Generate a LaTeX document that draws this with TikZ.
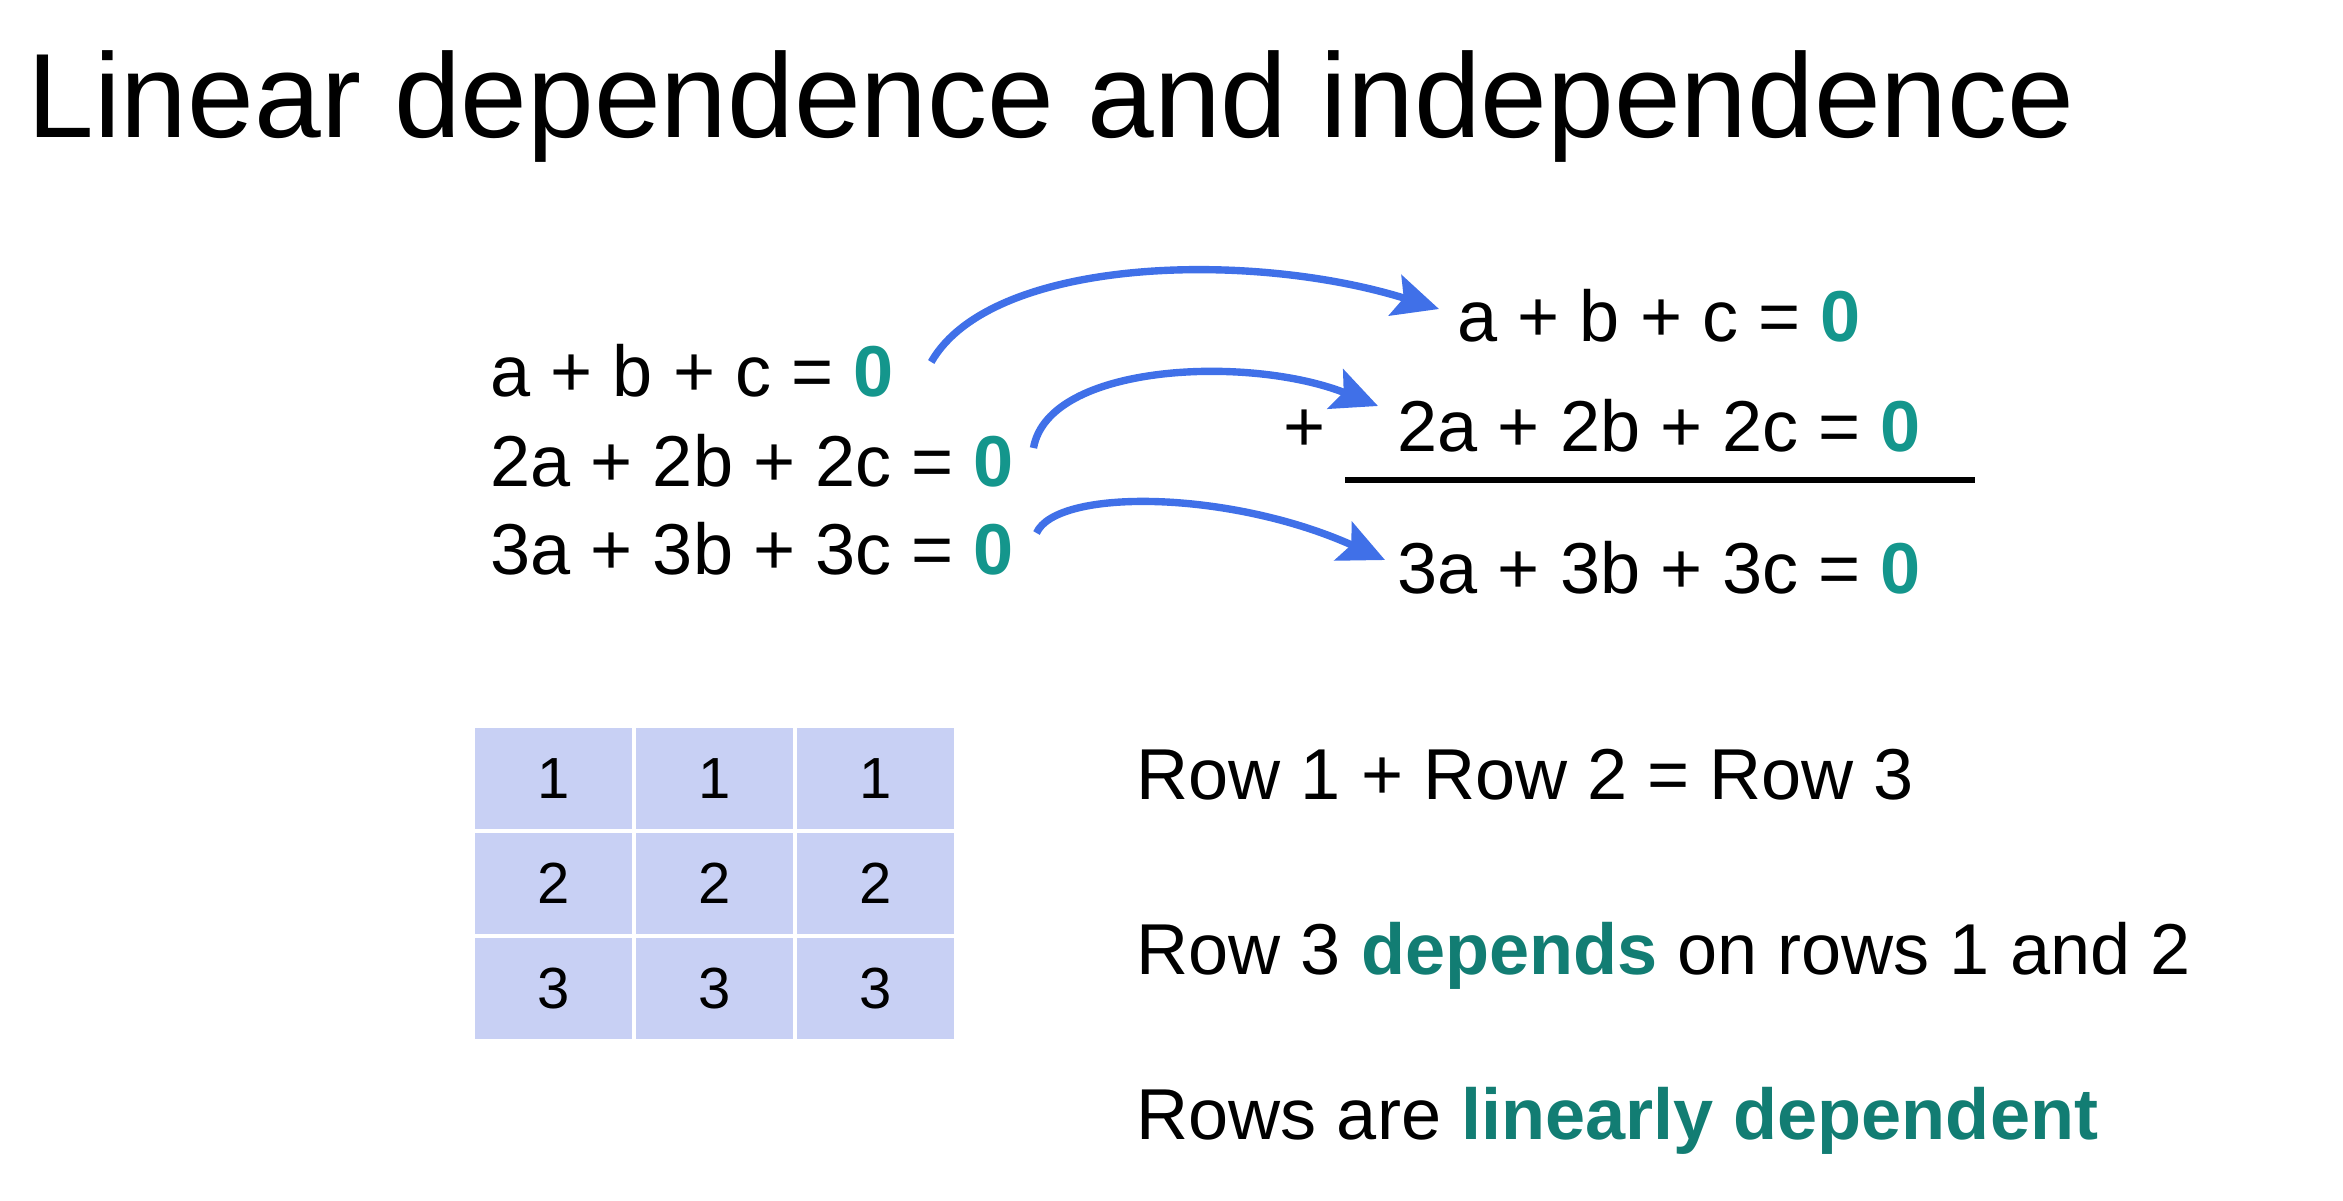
\documentclass[tikz,border=0pt]{standalone}
\usepackage{fontspec}
\setmainfont{Liberation Sans}
\usetikzlibrary{arrows.meta,calc}
\definecolor{arrowblue}{RGB}{64,112,232}
\definecolor{zeroteal}{RGB}{20,150,140}
\definecolor{wordteal}{RGB}{18,125,115}
\definecolor{cellfill}{RGB}{200,208,244}
\newcommand{\zeroT}{{\bfseries\color{zeroteal}0}}
\begin{document}
\begin{tikzpicture}[x=0.01cm,y=-0.01cm,
  txt/.style={inner sep=0pt, anchor=base west, font=\fontsize{20.5}{24}\selectfont},
  ttl/.style={inner sep=0pt, anchor=base west, font=\fontsize{34.1}{40}\selectfont},
  cell/.style={fill=cellfill, draw=none, minimum width=1.57cm, minimum height=1.01cm, inner sep=0pt, font=\fontsize{16.5}{19}\selectfont},
  conn/.style={arrowblue, line width=2.1pt, -{Stealth[length=13pt,width=12pt,inset=2.5pt]}},
  rule/.style={line width=1.9pt, black}
]
\useasboundingbox[fill=white] (0,0) rectangle (2343,1200);

\node[ttl] (title) at (27,137) {Linear dependence and independence};

\node[txt] (L1) at (490,396) {a + b + c = \zeroT};
\node[txt] (L2) at (490,486) {2a + 2b + 2c = \zeroT};
\node[txt] (L3) at (490,574) {3a + 3b + 3c = \zeroT};

\node[txt] (R1) at (1457,341) {a + b + c = \zeroT};
\node[txt] (R2) at (1397,451) {2a + 2b + 2c = \zeroT};
\node[txt,anchor=base] (plus) at (1305,451) {+};
\node[txt] (R3) at (1397,593) {3a + 3b + 3c = \zeroT};
\coordinate (ruleA) at (1345,480);
\coordinate (ruleB) at (1975,480);
\draw[rule] (ruleA) -- (ruleB);

\draw[conn] ($(L1.base east)+(37,-34)$) .. controls +(60,-105) and +(-189,-59) .. ($(R1.base west)+(-18,-32)$);
\draw[conn] ($(L2.base east)+(19,-38)$) .. controls +(15,-85) and +(-128,-51) .. ($(R2.base west)+(-19,-45)$);
\draw[conn] ($(L3.base east)+(22,-41)$) .. controls +(20,-45) and +(-155,-70) .. ($(R3.base west)+(-12,-33)$);

\node[cell] (m11) at (553.5,778.5) {1};
\node[cell] (m12) at (714.5,778.5) {1};
\node[cell] (m13) at (875.5,778.5) {1};
\node[cell] (m21) at (553.5,883.5) {2};
\node[cell] (m22) at (714.5,883.5) {2};
\node[cell] (m23) at (875.5,883.5) {2};
\node[cell] (m31) at (553.5,988.5) {3};
\node[cell] (m32) at (714.5,988.5) {3};
\node[cell] (m33) at (875.5,988.5) {3};

\node[txt] (t1) at (1136,799) {Row 1 + Row 2 = Row 3};
\node[txt] (t2) at (1136,974) {Row 3 {\bfseries\color{wordteal}depends} on rows 1 and 2};
\node[txt] (t3) at (1136,1139) {Rows are {\bfseries\color{wordteal}linearly dependent}};
\end{tikzpicture}
\end{document}
